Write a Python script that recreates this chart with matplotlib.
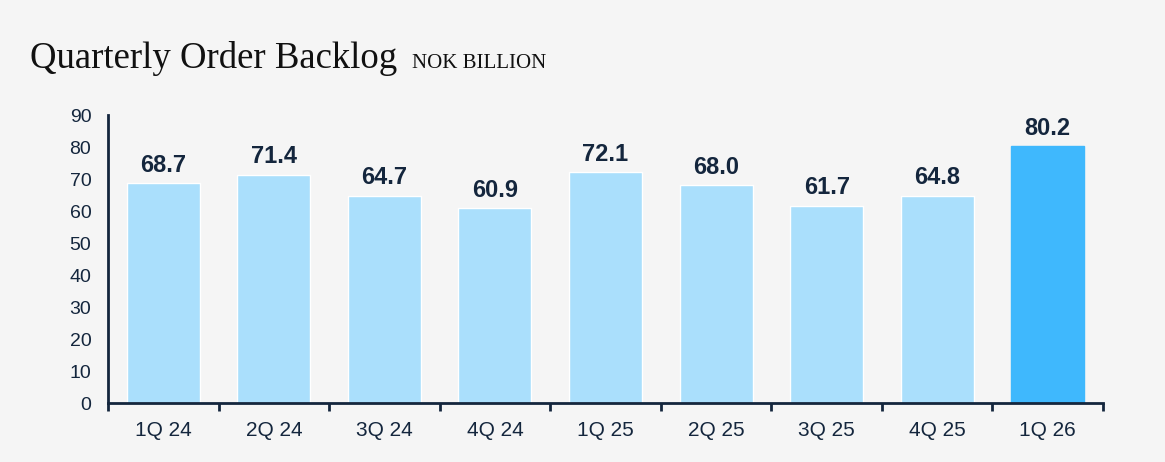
import matplotlib
matplotlib.use("Agg")
import matplotlib.pyplot as plt
import numpy as np

quarters = ["1Q 24", "2Q 24", "3Q 24", "4Q 24", "1Q 25", "2Q 25", "3Q 25", "4Q 25", "1Q 26"]
backlog = [68.7, 71.4, 64.7, 60.9, 72.1, 68.0, 61.7, 64.8, 80.2]
value_labels = ["68.7", "71.4", "64.7", "60.9", "72.1", "68.0", "61.7", "64.8", "80.2"]
yticks = [0, 10, 20, 30, 40, 50, 60, 70, 80, 90]

BG = "#f5f5f5"
NAVY = "#14263d"
LIGHT = "#aadffc"
HIGHLIGHT = "#3fb8fd"

fig = plt.figure(figsize=(11.65, 4.62), dpi=100, facecolor=BG)
ax = fig.add_axes([0.0927, 0.1277, 0.8541, 0.6233], facecolor=BG)

x = np.arange(len(quarters))
colors = [LIGHT] * (len(quarters) - 1) + [HIGHLIGHT]
edges = ["white"] * (len(quarters) - 1) + [HIGHLIGHT]
ax.bar(x, backlog, width=0.66, color=colors, edgecolor=edges, linewidth=1.0, zorder=2)

for xi, v, lab in zip(x, backlog, value_labels):
    ax.text(xi, v + 3.6, lab, ha="center", va="baseline", fontsize=17,
            fontweight="bold", color=NAVY, family="Liberation Sans")

ax.set_xlim(-0.5, len(quarters) - 0.5)
ax.set_ylim(0, 90)
ax.set_yticks(yticks)
ax.set_yticklabels([str(t) for t in yticks], fontsize=14, color=NAVY, family="Liberation Sans")
ax.tick_params(axis="y", length=0, pad=12)

# category labels centred on bars, tick marks at category boundaries
ax.set_xticks(x)
ax.set_xticklabels(quarters, fontsize=15, color=NAVY, family="Liberation Sans")
ax.tick_params(axis="x", which="major", length=0, pad=13)
ax.set_xticks(np.arange(-0.5, len(quarters), 1.0), minor=True)
ax.tick_params(axis="x", which="minor", length=6, width=2, color=NAVY, direction="out")

for side in ("top", "right"):
    ax.spines[side].set_visible(False)
for side in ("left", "bottom"):
    ax.spines[side].set_color(NAVY)
    ax.spines[side].set_linewidth(2)

fig.text(0.026, 0.853, "Quarterly Order Backlog", fontsize=26.5, color="#111111",
         family="Liberation Serif", va="baseline")
fig.text(0.354, 0.853, "NOK BILLION", fontsize=15, color="#111111",
         family="Liberation Serif", va="baseline")

fig.savefig("out.png", dpi=100, facecolor=BG)
